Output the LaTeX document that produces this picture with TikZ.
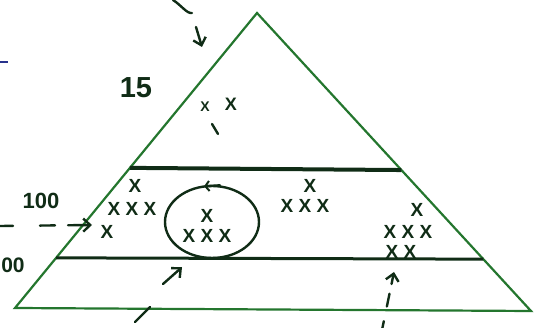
\documentclass[tikz,border=0pt]{standalone}
\usepackage{fontspec}
\setmainfont{Liberation Sans}
\usetikzlibrary{arrows.meta, shapes.geometric, calc}
\definecolor{penGreen}{RGB}{36,118,46}
\definecolor{inkDark}{RGB}{16,44,22}
\definecolor{penBlue}{RGB}{40,50,140}

\begin{document}
\begin{tikzpicture}[x=1pt, y=-1pt,
    edge/.style={draw=penGreen, line width=2.2pt, line join=miter},
    band/.style={draw=inkDark, line width=3pt},
    pen/.style={draw=inkDark, line width=2.4pt, line cap=round},
    tip/.style={-{Straight Barb[length=7pt, width=13pt, line width=2.4pt]}},
    xmark/.style={inner sep=0pt, text=inkDark, font=\bfseries\fontsize{19}{19}\selectfont},
    num/.style={inner sep=0pt, text=inkDark, font=\bfseries\fontsize{22}{22}\selectfont}
]
\useasboundingbox (0,0) rectangle (539,328);
\clip (0,0) rectangle (539,328);

% pyramid and its bands
\coordinate (top) at (257,13);
\coordinate (bl) at (15,308);
\coordinate (br) at (531,311);
\draw[edge] (bl) -- (top) -- (br) -- cycle;
\coordinate (b1l) at ($(top)!0.525!(bl)$);
\coordinate (b1r) at ($(top)!0.527!(br)$);
\coordinate (b2l) at ($(top)!0.83!(bl)$);
\coordinate (b2r) at ($(top)!0.826!(br)$);
\draw[band, line width=4pt] (b1l) -- (b1r);
\draw[band] (b2l) -- (b2r);

% labels on the left
\node[num, font=\bfseries\fontsize{29}{29}\selectfont] (n15) at (136,88) {15};
\node[num] (n100) at (41,201) {100};
\node[num, font=\bfseries\fontsize{21}{21}\selectfont] (n00) at (13,265) {00};

% top tier
\node[xmark, font=\bfseries\fontsize{14}{14}\selectfont] (a1) at (205,107) {X};
\node[xmark, font=\bfseries\fontsize{18}{18}\selectfont] (a2) at (231,104) {X};
\draw[pen] (212,124) -- (218,134);

% middle tier
\node[xmark] (l1) at (135,186) {X};
\node[xmark] (l2) at (132,209) {X X X};
\node[xmark] (l3) at (107,232) {X};
\node[ellipse, draw=inkDark, line width=2.4pt, minimum width=94pt, minimum height=72pt, inner sep=0pt] (grp) at (212,222) {};
\node[xmark] (c1) at (207,216) {X};
\node[xmark] (c2) at (207,236) {X X X};
\node[xmark] (m1) at (310,186) {X};
\node[xmark] (m2) at (305,206) {X X X};
\node[xmark] (r1) at (417,210) {X};
\node[xmark] (r2) at (408,232) {X X X};
\node[xmark] (r3) at (401,252) {X X};

% arrows
\coordinate (inA) at (0,226);
\coordinate (inB) at (92,225);
\draw[pen, tip, dash pattern=on 13pt off 27pt on 15pt off 13pt on 40pt] (inA) -- (inB);
\coordinate (upA) at (382,330);
\coordinate (upB) at (394,272);
\draw[pen, tip, dash pattern=on 9pt off 15pt on 13pt off 10pt on 40pt] (upA) -- (upB);
\coordinate (grpA) at (163,284);
\draw[pen, tip] (grpA) -- ($(grp.south)+(-30,8)$);
\draw[pen, -{Straight Barb[length=4pt, width=10pt, line width=2pt]}] ($(grp.north)+(8,0.5)$) -- ($(grp.north)+(-8,1.5)$);
\coordinate (topA) at (173,0);
\coordinate (topB) at (192,13);
\draw[pen] (topA) .. controls (181,5) and (187,14) .. (topB);
\draw[pen, tip] (196,27) -- (202,47);
\draw[pen] (135,322) -- (150,307);
\draw[draw=penBlue, line width=2.5pt] (0,62) -- (8,62);
\end{tikzpicture}
\end{document}
